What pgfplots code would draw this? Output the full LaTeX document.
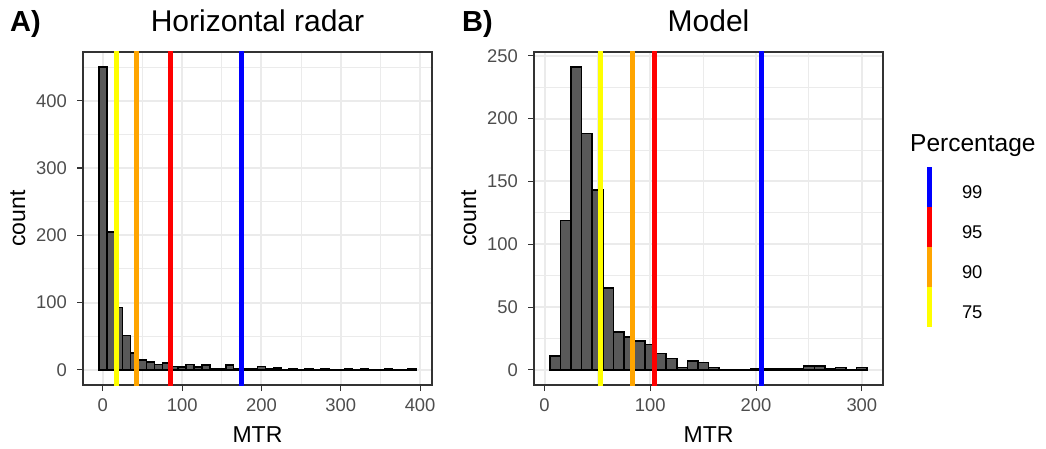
\documentclass[border=0pt]{standalone}
\usepackage{fontspec}
\setmainfont{Liberation Sans}
\usepackage{pgfplots}
\pgfplotsset{compat=1.18}
\definecolor{barfill}{HTML}{595959}
\definecolor{gridgrey}{HTML}{EBEBEB}
\definecolor{framegrey}{HTML}{333333}
\definecolor{ticktext}{HTML}{4D4D4D}
\definecolor{q75}{HTML}{FFFF00}
\definecolor{q90}{HTML}{FFA500}
\definecolor{q95}{HTML}{FF0000}
\definecolor{q99}{HTML}{0000FF}

\pgfplotsset{
  ggpanel/.style={
    scale only axis, width=349pt, height=333pt,
    axis line style={framegrey, line width=1.1pt},
    tick align=outside, major tick length=6pt, minor tick length=0pt,
    tick style={framegrey, line width=1.1pt},
    xtick pos=left, ytick pos=left,
    grid=both, major grid style={gridgrey, line width=2pt},
    minor grid style={gridgrey, line width=1pt},
    tick label style={font=\fontsize{18.4}{18.4}\selectfont, text=ticktext, inner sep=0pt},
    xticklabel style={anchor=north, yshift=-7pt},
    yticklabel style={anchor=east, xshift=-10pt},
    /pgf/number format/assume math mode=true,
    xlabel=MTR, ylabel=count,
    label style={font=\fontsize{23}{23}\selectfont, inner sep=0pt},
    xlabel style={at={(axis description cs:0.5,-0.174)}, anchor=base},
    ylabel style={at={(axis description cs:-0.166,0.5)}, anchor=base},
    clip=true,
  },
  hist/.style={ybar, bar width=10, bar shift=0pt, fill=barfill, draw=black, line width=1.5pt},
  qline/.style={line width=5pt},
}

\begin{document}
\begin{tikzpicture}
\useasboundingbox (0,0) rectangle (1046pt,448pt);

% A) horizontal radar
\begin{axis}[ggpanel, at={(83pt,63pt)}, anchor=south west,
  xmin=-25, xmax=415, ymin=-22.5, ymax=472.5,
  xtick={0,100,200,300,400}, minor xtick={50,150,250,350},
  ytick={0,100,200,300,400}, minor ytick={50,150,250,350,450}]
\addplot[hist] coordinates {(0,450) (10,205) (20,93) (30,51) (40,25) (50,15) (60,12) (70,8) (80,10) (90,5) (100,4) (110,8) (120,4) (130,7) (140,1) (150,1) (160,7) (170,2) (180,1) (190,1) (200,5) (210,1) (220,3) (230,0) (240,1) (250,0) (260,1) (270,0) (280,1) (290,0) (300,0) (310,2) (320,0) (330,1) (340,0) (350,0) (360,1) (370,0) (380,0) (390,2)};
\addplot[qline, q75] coordinates {(17,-100) (17,600)};
\addplot[qline, q90] coordinates {(43,-100) (43,600)};
\addplot[qline, q95] coordinates {(85,-100) (85,600)};
\addplot[qline, q99] coordinates {(174.5,-100) (174.5,600)};
\end{axis}

% B) model
\begin{axis}[ggpanel, at={(534pt,63pt)}, anchor=south west,
  xmin=-10, xmax=320, ymin=-12.05, ymax=253.05,
  xtick={0,100,200,300}, minor xtick={50,150,250},
  ytick={0,50,100,150,200,250}, minor ytick={25,75,125,175,225},
  legend image code/.code={\draw[#1, line cap=butt, overlay] (0pt,-13.4pt) -- (0pt,26.6pt);
    \path[draw=none, fill=none] (0pt,-13.4pt) rectangle (33pt,26.6pt);},
  legend style={at={(axis description cs:1.1318,0.6556)}, anchor=north west,
    draw=none, fill=none, inner sep=0pt, outer sep=0pt, row sep=0pt,
    font=\fontsize{18.4}{18.4}\selectfont, nodes={inner sep=0pt}},
  legend cell align=left]
\addplot[hist, forget plot] coordinates {(10,11) (20,119) (30,241) (40,188) (50,143) (60,65) (70,30) (80,26) (90,23) (100,20) (110,13) (120,9) (130,2) (140,7) (150,6) (160,2) (170,0) (180,0) (190,0) (200,1) (210,1) (220,1) (230,1) (240,1) (250,3) (260,3) (270,1) (280,2) (290,0) (300,2)};
\addplot[qline, q99] coordinates {(205,-100) (205,600)};
\addlegendentry{99}
\addplot[qline, q95] coordinates {(104,-100) (104,600)};
\addlegendentry{95}
\addplot[qline, q90] coordinates {(83,-100) (83,600)};
\addlegendentry{90}
\addplot[qline, q75] coordinates {(53,-100) (53,600)};
\addlegendentry{75}
\end{axis}

% titles, tags and legend title
\node[anchor=base, font=\fontsize{30}{30}\selectfont, inner sep=0pt] at (257.5pt,416pt) {Horizontal radar};
\node[anchor=base, font=\fontsize{30}{30}\selectfont, inner sep=0pt] at (708.5pt,416pt) {Model};
\node[anchor=base west, font=\fontsize{29}{29}\selectfont\bfseries, inner sep=0pt] at (10pt,416pt) {A)};
\node[anchor=base west, font=\fontsize{29}{29}\selectfont\bfseries, inner sep=0pt] at (462pt,416pt) {B)};
\node[anchor=base west, font=\fontsize{24.5}{24.5}\selectfont, inner sep=0pt] at (910pt,297pt) {Percentage};
\end{tikzpicture}
\end{document}
